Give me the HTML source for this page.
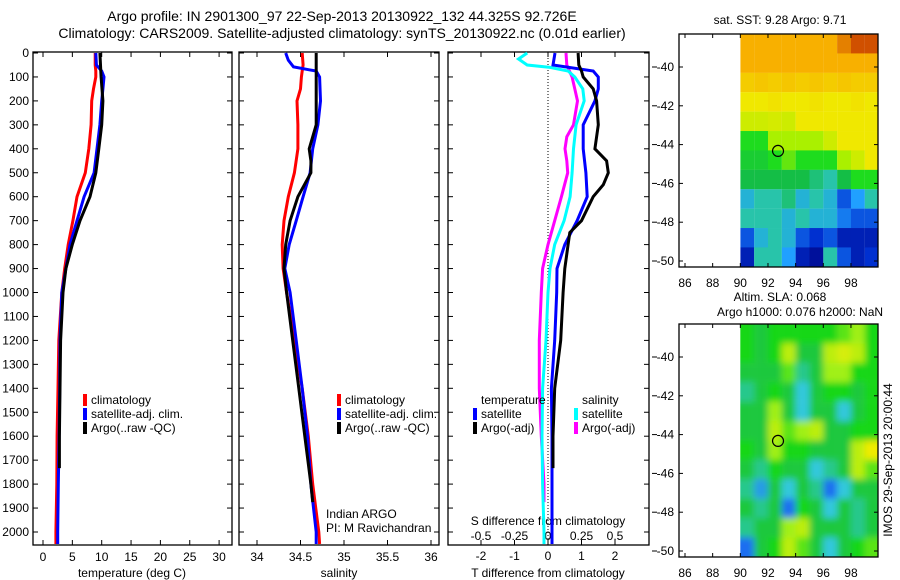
<!DOCTYPE html>
<html><head><meta charset="utf-8"><style>
html,body{margin:0;padding:0;background:#fff;}
svg{display:block;font-family:"Liberation Sans",sans-serif;}
text{font-size:12px;fill:#000;}
</style></head><body>
<svg id="fig" width="900" height="580" viewBox="0 0 900 580" xmlns="http://www.w3.org/2000/svg">
<text x="342" y="21" text-anchor="middle" style="font-size:14px">Argo profile: IN 2901300_97 22-Sep-2013 20130922_132 44.325S 92.726E</text>
<text x="342" y="38" text-anchor="middle" style="font-size:14px">Climatology: CARS2009. Satellite-adjusted climatology: synTS_20130922.nc (0.01d earlier)</text>
<g id="g"></g>
</svg>
<script>
// ---- data ----
const depthsA=[0,50,75,100,150,200,300,400,500,600,700,800,900,1000,1200,1400,1600,1800,2000,2050];
const tempClim=[8.9,8.9,9.0,9.0,8.6,8.3,8.2,7.8,7.2,5.8,5.1,4.3,3.7,3.2,2.7,2.55,2.4,2.35,2.2,2.2];
const tempSat=[9.0,9.1,10.0,10.4,10.2,10.0,9.7,9.2,8.7,7.0,5.8,4.6,3.9,3.2,2.9,2.85,2.75,2.6,2.5,2.5];
const depthsB=[0,100,200,300,400,500,600,700,800,900,1000,1200,1400,1600,1733];
const tempArgo=[9.7,9.9,10.2,10.0,9.5,9.0,8.0,6.3,5.0,3.9,3.4,3.0,2.9,2.8,2.8];
const salClim=[34.52,34.53,34.52,34.51,34.50,34.46,34.47,34.47,34.43,34.36,34.31,34.29,34.30,34.34,34.43,34.52,34.59,34.64,34.71,34.72];
const depthsS=[0,30,58,70,75,100,200,300,400,500,600,700,800,900,1000,1200,1400,1600,1800,1900,2000,2050];
const salSat=[34.33,34.36,34.42,34.60,34.68,34.72,34.73,34.70,34.64,34.61,34.53,34.45,34.37,34.32,34.38,34.45,34.52,34.58,34.62,34.65,34.68,34.68];
const depthsSA=[0,100,200,300,350,400,450,500,600,700,800,900,1000,1200,1400,1600,1800,1875];
const salArgo=[34.68,34.68,34.68,34.68,34.64,34.60,34.62,34.62,34.47,34.38,34.33,34.31,34.34,34.41,34.48,34.55,34.62,34.64];
const depthsD=[0,50,75,100,150,200,300,400,500,600,700,800,900,1000,1200,1400,1600,1800,2000,2050];
const dTsat=[0.21,0.15,1.35,1.5,1.5,1.4,1.05,1.05,1.13,1.17,0.87,0.5,0.27,0.26,0.2,0.1,0.12,0.12,0.12,0.12];
const depthsDA=[0,50,75,100,150,200,300,400,450,500,550,600,700,750,800,900,1000,1200,1400,1600,1733];
const dTargo=[0.9,0.92,1.0,1.05,1.35,1.45,1.5,1.4,1.75,1.8,1.65,1.35,1.0,0.65,0.6,0.5,0.45,0.38,0.2,0.15,0.15];
const depthsC=[0,25,50,60,75,100,150,200,300,400,500,600,700,800,900,1000,1200,1400,1600,1800,2000,2050];
const dSsat=[-0.155,-0.22,-0.155,0.015,0.15,0.2,0.26,0.27,0.21,0.19,0.18,0.165,0.12,0.05,0.015,0.0,-0.015,-0.04,-0.045,-0.04,-0.03,-0.03];
const depthsM=[0,50,100,150,200,300,350,400,450,500,600,700,800,900,1000,1200,1400,1600,1800,1875];
const dSargo=[0.134,0.14,0.18,0.2,0.22,0.19,0.14,0.127,0.14,0.147,0.1,0.05,0.0,-0.04,-0.05,-0.065,-0.065,-0.05,-0.03,-0.03];
const tempTicks=[0,5,10,15,20,25,30];
const salTicks=[34,34.5,35,35.5,36];
const salTickLabels=["34","34.5","35","35.5","36"];
const dTTicks=[-2,-1,0,1,2];
const dSTicks=[-0.5,-0.25,0,0.25,0.5];
const dSTickLabels=["-0.5","-0.25","0","0.25","0.5"];
const depthTicks=[0,100,200,300,400,500,600,700,800,900,1000,1100,1200,1300,1400,1500,1600,1700,1800,1900,2000];
const lonTicks=[86,88,90,92,94,96,98];
const latTicks=[-40,-42,-44,-46,-48,-50];
const sstGrid=[
[9,9,9,9,9,9,9,9.5,10,10],
[9,9,9,9,9,9,9,9,9,9],
[8.5,8.6,8.5,8.6,8.5,8.6,8.5,8.6,8.5,8.5],
[8,8,8.1,8,8,8.1,8,8,8.1,8],
[7.5,7.5,7.6,7.5,8,8,8,8,8,8],
[6,6,7,7,7,7,7.5,8,8,8],
[5.5,5.5,6,6.5,6,6,6,7,7.5,8],
[5,5,5,5,5,4.5,4,5,6,6],
[3.5,4,4,4.5,3.5,4,3.5,2,3,4],
[4,4,4,3.5,4,3.5,3.5,2.5,2,2],
[2,3.5,4,3.5,2,1.5,2,1,1,1],
[1,4,4,3,1,0.5,4,2,1,1.5]];
const slaGrid=[
[5.5,5,5.5,5.5,5.5,5.5,5.5,6,6.5,5.5],
[5.5,5,5.5,7,5,5,7,7.5,7,5.5],
[5,5,5,6,4.5,5,6.5,6.5,5.5,5.5],
[4.5,5,5.5,5,4,5,5.5,5.5,5,5.5],
[5,5,6.5,5,4,5,5,4,5,5.5],
[5,5,7,6,6.5,7,5,5,5.5,5.5],
[5.5,5,6.5,5.5,5.5,5,5,5,7,8],
[5,4.5,5.5,5,5,4,4.5,5,7,6],
[4.5,3.5,5,4,5,4.5,3,4,5,5],
[5,4.5,5,3,5.5,5,4,5,4.5,5],
[4.5,5,5,6.5,7,5,5,5,4.5,5],
[3,5,5.5,7,6,5,4,5,5.5,6]];
const argoLon=92.726, argoLat=-44.325;

// ---- helpers ----
const NS="http://www.w3.org/2000/svg";
const G=document.getElementById('g');
function mk(tag,attrs,parent){const e=document.createElementNS(NS,tag);for(const k in attrs)e.setAttribute(k,attrs[k]);(parent||G).appendChild(e);return e;}
const TOP=52,BOT=545;
const yD=d=>53+d*0.2395;
const panels=[{x0:33,x1:232},{x0:239,x1:439},{x0:448,x1:649}];
const xT=v=>43+v*5.87;
const xS=v=>257+(v-34)*87;
const xdT=v=>548+v*33.5;
const xdS=v=>548+v*134;

function line(xs,ds,fx,color,name){
  const pts=xs.map((v,i)=>fx(v).toFixed(1)+','+yD(ds[i]).toFixed(1)).join(' ');
  const p=mk('polyline',{points:pts,fill:'none',stroke:color,'stroke-width':3,'stroke-linejoin':'miter'});
  
  
}
function txt(x,y,s,anchor,name,size){
  const t=mk('text',{x:x,y:y,'text-anchor':anchor||'start'});
  if(size)t.style.fontSize=size+'px';
  t.textContent=s;
  
  
  return t;
}
const fmt=v=>String(v).replace('\u2212','-');

// panel frames + depth ticks
panels.forEach((p,i)=>{
  const r=mk('rect',{x:p.x0,y:TOP,width:p.x1-p.x0,height:BOT-TOP,fill:'none',stroke:'#000','stroke-width':1.3});
  
  
  depthTicks.forEach(d=>{
    mk('line',{x1:p.x0,x2:p.x0+5,y1:yD(d),y2:yD(d),stroke:'#000'});
    mk('line',{x1:p.x1,x2:p.x1-5,y1:yD(d),y2:yD(d),stroke:'#000'});
  });
});
depthTicks.forEach(d=>{txt(29,yD(d)+4,String(d),'end','depth-tick-label');});

// x ticks
tempTicks.forEach(v=>{mk('line',{x1:xT(v),x2:xT(v),y1:TOP,y2:TOP+5,stroke:'#000'});mk('line',{x1:xT(v),x2:xT(v),y1:BOT,y2:BOT-5,stroke:'#000'});txt(xT(v),561,String(v),'middle','temperature-tick-label');});
salTicks.forEach((v,i)=>{mk('line',{x1:xS(v),x2:xS(v),y1:TOP,y2:TOP+5,stroke:'#000'});mk('line',{x1:xS(v),x2:xS(v),y1:BOT,y2:BOT-5,stroke:'#000'});txt(xS(v),561,salTickLabels[i],'middle','salinity-tick-label');});
dTTicks.forEach(v=>{mk('line',{x1:xdT(v),x2:xdT(v),y1:TOP,y2:TOP+5,stroke:'#000'});mk('line',{x1:xdT(v),x2:xdT(v),y1:BOT,y2:BOT-5,stroke:'#000'});txt(xdT(v),560,fmt(v),'middle','t-diff-tick-label');});
dSTicks.forEach((v,i)=>{txt(xdS(v),540,dSTickLabels[i],'middle','s-diff-tick-label');});
txt(132,577,'temperature (deg C)','middle','temperature-axis-title');
txt(339,577,'salinity','middle','salinity-axis-title');
txt(548,577,'T difference from climatology','middle','t-diff-axis-title');
txt(548,525,'S difference from climatology','middle','s-diff-axis-title');
const z=mk('line',{x1:xdT(0),x2:xdT(0),y1:TOP,y2:BOT,stroke:'#000','stroke-dasharray':'1,2'});



// series
line(tempClim,depthsA,xT,'#ff0000','temp-climatology-line');
line(tempSat,depthsA,xT,'#0000ff','temp-satellite-line');
line(tempArgo,depthsB,xT,'#000000','temp-argo-line');
line(salClim,depthsA,xS,'#ff0000','sal-climatology-line');
line(salSat,depthsS,xS,'#0000ff','sal-satellite-line');
line(salArgo,depthsSA,xS,'#000000','sal-argo-line');
line(dSargo,depthsM,xdS,'#ff00ff','s-diff-argo-line');
line(dSsat,depthsC,xdS,'#00ffff','s-diff-satellite-line');
line(dTsat,depthsD,xdT,'#0000ff','t-diff-satellite-line');
line(dTargo,depthsDA,xdT,'#000000','t-diff-argo-line');

// legends
function leg(x,y,color,label,name){
  const r=mk('rect',{x:x,y:y-10,width:4,height:12,fill:color});
  
  
  txt(x+8,y,label,'start',name);
}
[[83,'climatology','#ff0000'],[83,'satellite-adj. clim.','#0000ff'],[83,'Argo(..raw -QC)','#000']].forEach((l,i)=>leg(l[0],404+i*14,l[2],l[1],'legend-entry-temp-'+i));
[[337,'climatology','#ff0000'],[337,'satellite-adj. clim.','#0000ff'],[337,'Argo(..raw -QC)','#000']].forEach((l,i)=>leg(l[0],404+i*14,l[2],l[1],'legend-entry-sal-'+i));
txt(481,404,'temperature','start','legend-heading-temperature');
txt(582,404,'salinity','start','legend-heading-salinity');
leg(473,418,'#0000ff','satellite','legend-entry-t-satellite');
leg(473,432,'#000','Argo(-adj)','legend-entry-t-argo');
leg(574,418,'#00ffff','satellite','legend-entry-s-satellite');
leg(574,432,'#ff00ff','Argo(-adj)','legend-entry-s-argo');
txt(326,518,'Indian ARGO','start','credit-indian-argo');
txt(326,532,'PI: M Ravichandran','start','credit-pi');

// maps
function color(v){
  const st=[[0,[0,0,128]],[1.5,[0,48,208]],[3,[32,160,255]],[4,[40,196,170]],[5,[20,190,70]],[6,[30,220,30]],[7,[170,240,0]],[8,[240,232,0]],[9,[248,176,0]],[10,[208,80,0]]];
  for(let i=1;i<st.length;i++){if(v<=st[i][0]){const a=st[i-1],b=st[i],t=(v-a[0])/(b[0]-a[0]);return 'rgb('+a[1].map((c,k)=>Math.round(c+(b[1][k]-c)*t)).join(',')+')';}}
  return 'rgb(208,80,0)';
}
function slaColor(v){
  const st=[[3,[30,110,240]],[4,[50,200,220]],[5,[30,200,60]],[5.5,[20,215,20]],[6.5,[160,240,20]],[8,[240,235,0]]];
  if(v<=3)return 'rgb(30,110,240)';
  for(let i=1;i<st.length;i++){if(v<=st[i][0]){const a=st[i-1],b=st[i],t=(v-a[0])/(b[0]-a[0]);return 'rgb('+a[1].map((c,k)=>Math.round(c+(b[1][k]-c)*t)).join(',')+')';}}
  return 'rgb(240,235,0)';
}
const X0=679,X1=878;
const xL=lon=>685+(lon-86)*13.83;
function drawMap(top,grid,cf,name,blur){
  const ylat=lat=>top+33+(-40-lat)*19.4;
  const defs=mk('defs',{});
  const cp=mk('clipPath',{id:'cp'+name},defs);
  mk('rect',{x:xL(90),y:top,width:X1-xL(90),height:233},cp);
  if(blur){const f=mk('filter',{id:'bl'+name,x:'-10%',y:'-10%',width:'120%',height:'120%'},defs);mk('feGaussianBlur',{stdDeviation:3.5},f);}
  const g=mk('g',{'clip-path':'url(#cp'+name+')'});
  const g2=mk('g',blur?{filter:'url(#bl'+name+')'}:{},g);
  
  
  grid.forEach((row,i)=>row.forEach((v,j)=>{
    const lat=-38.3-i;
    const c=mk('rect',{x:xL(90+j)-(blur&&j==0?14:0),y:ylat(lat)-(blur&&i==0?20:0),width:13.9+(blur&&(j==0||j==9)?14:0),height:19.5+(blur&&(i==0||i==11)?20:0),fill:cf(v)},g2);
    
    
  }));
  const fr=mk('rect',{x:X0,y:top,width:X1-X0,height:233,fill:'none',stroke:'#000','stroke-width':1.3});
  
  
  lonTicks.forEach(v=>{mk('line',{x1:xL(v),x2:xL(v),y1:top,y2:top+4,stroke:'#000'});mk('line',{x1:xL(v),x2:xL(v),y1:top+233,y2:top+229,stroke:'#000'});txt(xL(v),top+253,String(v),'middle',name+'-lon-label');});
  latTicks.forEach(v=>{mk('line',{x1:X0,x2:X0+4,y1:ylat(v),y2:ylat(v),stroke:'#000'});mk('line',{x1:X1,x2:X1-4,y1:ylat(v),y2:ylat(v),stroke:'#000'});mk('line',{x1:652,x2:657,y1:ylat(v),y2:ylat(v),stroke:'#000'});txt(674,ylat(v)+4,fmt(v),'end',name+'-lat-label');});
  const c=mk('circle',{cx:xL(argoLon),cy:ylat(argoLat),r:5.5,fill:'none',stroke:'#000','stroke-width':1.2});
  
  
}
drawMap(34,sstGrid,color,'sst-map',false);
drawMap(324,slaGrid,slaColor,'sla-map',true);
txt(780,24,'sat. SST: 9.28 Argo: 9.71','middle','sst-map-title');
txt(780,301,'Altim. SLA: 0.068','middle','sla-map-title');
txt(800,316,'Argo h1000: 0.076 h2000: NaN','middle','sla-map-subtitle');
const v=txt(0,0,'IMOS 29-Sep-2013 20:00:44','middle','imos-timestamp');
v.setAttribute('transform','translate(892,460) rotate(-90)');
</script>
</body></html>
